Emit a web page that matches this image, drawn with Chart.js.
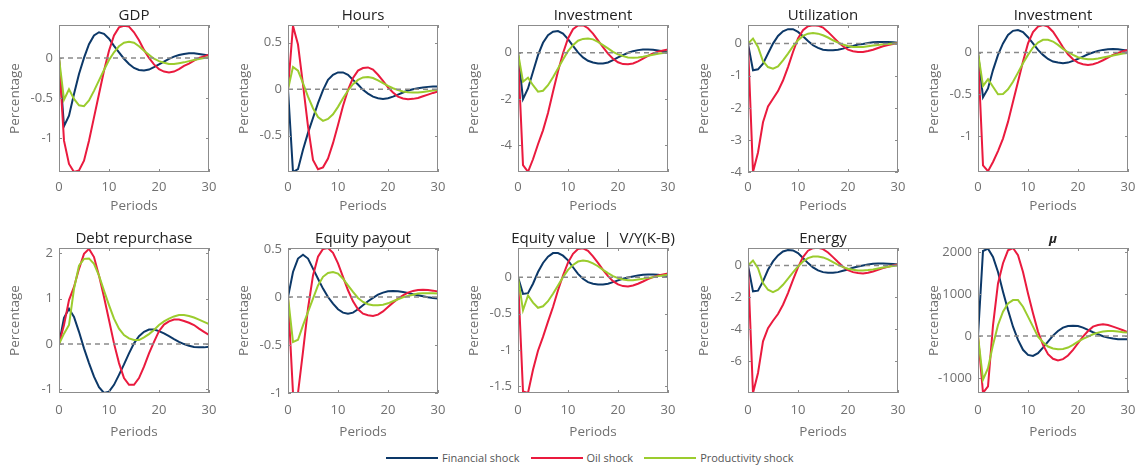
<!DOCTYPE html>
<html>
<head>
<meta charset="utf-8">
<script src="https://cdn.jsdelivr.net/npm/chart.js@4.4.0/dist/chart.umd.min.js"></script>
<style>
  html, body { margin: 0; padding: 0; background: #fff; width: 1138px; height: 469px; overflow: hidden; }
  .panel { position: absolute; width: 230px; height: 220px; }
  #legend { position: absolute; left: 386px; top: 450px; display: flex; align-items: center;
            font: 11px "Open Sans", sans-serif; color: #555; line-height: 15px; }
  #legend .sw { display: inline-block; width: 52px; height: 2px; margin-right: 4px; }
  #legend .item { display: flex; align-items: center; margin-right: 11px; }
</style>
</head>
<body>
<div id="legend"></div>
<script>
// periods on the x axis
const periods = [0,1,2,3,4,5,6,7,8,9,10,11,12,13,14,15,16,17,18,19,20,21,22,23,24,25,26,27,28,29,30];
const xTicks = [0, 10, 20, 30];

const seriesNames = ['Financial shock', 'Oil shock', 'Productivity shock'];
const seriesColors = ['#0c3868', '#ea1a3e', '#9bcc2e'];

// GDP
const gdpFin  = [0,-0.85,-0.72,-0.45,-0.2,0.0,0.17,0.28,0.32,0.30,0.24,0.15,0.07,-0.01,-0.075,-0.125,-0.15,-0.157,-0.145,-0.115,-0.08,-0.045,-0.012,0.016,0.037,0.05,0.058,0.058,0.05,0.04,0.03];
const gdpOil  = [0,-1.03,-1.32,-1.42,-1.40,-1.28,-1.03,-0.74,-0.45,-0.16,0.09,0.28,0.38,0.40,0.39,0.32,0.22,0.10,0.0,-0.08,-0.14,-0.17,-0.18,-0.17,-0.14,-0.10,-0.07,-0.035,0.0,0.02,0.04];
const gdpProd = [0,-0.52,-0.39,-0.51,-0.59,-0.60,-0.53,-0.41,-0.28,-0.15,-0.025,0.07,0.145,0.19,0.20,0.19,0.145,0.09,0.04,-0.01,-0.04,-0.06,-0.075,-0.075,-0.065,-0.055,-0.04,-0.025,-0.012,0.0,0.008];
const gdpTicks = [-1, -0.5, 0];

// Hours
const hoursFin  = [0,-0.89,-0.86,-0.65,-0.47,-0.31,-0.15,-0.01,0.10,0.155,0.18,0.18,0.155,0.10,0.05,-0.007,-0.047,-0.08,-0.097,-0.104,-0.097,-0.08,-0.058,-0.036,-0.014,0.0,0.01,0.018,0.025,0.029,0.029];
const hoursOil  = [0,0.68,0.48,0.05,-0.40,-0.76,-0.86,-0.84,-0.745,-0.58,-0.385,-0.18,-0.007,0.12,0.20,0.227,0.234,0.21,0.155,0.09,0.02,-0.036,-0.08,-0.10,-0.108,-0.104,-0.094,-0.076,-0.058,-0.04,-0.025];
const hoursProd = [0,0.24,0.20,0.065,-0.08,-0.205,-0.30,-0.34,-0.32,-0.27,-0.19,-0.097,-0.014,0.054,0.10,0.126,0.13,0.12,0.094,0.065,0.036,0.01,-0.01,-0.025,-0.032,-0.036,-0.036,-0.029,-0.022,-0.014,-0.007];
const hoursTicks = [-0.5, 0, 0.5];

// Investment
const invFin  = [0,-2.0,-1.54,-0.82,-0.10,0.43,0.76,0.91,0.94,0.83,0.59,0.30,0.014,-0.20,-0.345,-0.42,-0.46,-0.46,-0.42,-0.32,-0.20,-0.10,0.0,0.07,0.115,0.144,0.144,0.13,0.10,0.07,0.043];
const invOil  = [0,-4.85,-5.14,-4.6,-3.95,-3.35,-2.6,-1.68,-0.8,-0.02,0.62,1.02,1.18,1.19,1.06,0.83,0.54,0.24,-0.04,-0.26,-0.41,-0.49,-0.5,-0.46,-0.37,-0.25,-0.13,-0.03,0.05,0.1,0.14];
const invProd = [0,-1.25,-1.08,-1.40,-1.68,-1.64,-1.40,-1.06,-0.68,-0.29,0.07,0.33,0.52,0.60,0.62,0.58,0.47,0.33,0.19,0.043,-0.07,-0.144,-0.20,-0.216,-0.20,-0.17,-0.13,-0.086,-0.043,-0.014,0.014];
const invTicks = [-4, -2, 0];

// Utilization
const utilFin  = [0,-0.83,-0.80,-0.625,-0.31,0,0.24,0.385,0.45,0.45,0.365,0.23,0.083,-0.052,-0.135,-0.19,-0.21,-0.21,-0.19,-0.156,-0.104,-0.073,-0.03,-0.01,0.02,0.04,0.05,0.05,0.05,0.04,0.03];
const utilOil  = [0,-4.0,-3.39,-2.45,-1.96,-1.72,-1.48,-1.15,-0.73,-0.26,0.16,0.42,0.54,0.57,0.56,0.50,0.365,0.21,0.052,-0.083,-0.19,-0.24,-0.26,-0.26,-0.23,-0.19,-0.135,-0.083,-0.042,-0.01,0.02];
const utilProd = [0,0.156,-0.104,-0.55,-0.73,-0.78,-0.71,-0.52,-0.31,-0.083,0.104,0.24,0.31,0.33,0.31,0.26,0.19,0.104,0.03,-0.03,-0.073,-0.104,-0.104,-0.104,-0.083,-0.06,-0.04,-0.02,-0.01,0,0];
const utilTicks = [-4, -3, -2, -1, 0];

// Investment (second panel)
const inv2Fin  = [0,-0.536,-0.43,-0.21,-0.028,0.11,0.21,0.26,0.27,0.245,0.184,0.11,0.032,-0.028,-0.076,-0.108,-0.12,-0.128,-0.12,-0.10,-0.076,-0.048,-0.02,0,0.02,0.032,0.04,0.044,0.04,0.032,0.024];
const inv2Oil  = [0,-1.35,-1.42,-1.31,-1.18,-1.03,-0.83,-0.59,-0.35,-0.108,0.11,0.245,0.31,0.33,0.31,0.25,0.16,0.064,-0.02,-0.08,-0.12,-0.14,-0.148,-0.14,-0.12,-0.092,-0.06,-0.028,-0.004,0.016,0.032];
const inv2Prod = [0,-0.40,-0.32,-0.41,-0.50,-0.496,-0.44,-0.35,-0.24,-0.128,-0.028,0.06,0.12,0.152,0.152,0.132,0.092,0.044,0.004,-0.028,-0.056,-0.072,-0.08,-0.08,-0.072,-0.06,-0.048,-0.036,-0.024,-0.012,-0.004];
const inv2Ticks = [-1, -0.5, 0];

// Debt repurchase
const debtFin  = [0,0.58,0.78,0.60,0.27,-0.095,-0.42,-0.72,-0.95,-1.08,-1.05,-0.90,-0.68,-0.45,-0.205,0.015,0.175,0.27,0.32,0.32,0.285,0.234,0.175,0.11,0.05,0,-0.037,-0.066,-0.073,-0.073,-0.06];
const debtOil  = [0,0.42,0.97,1.26,1.66,1.99,2.10,1.92,1.51,1.04,0.53,0.015,-0.42,-0.75,-0.90,-0.90,-0.75,-0.50,-0.205,0.05,0.285,0.43,0.50,0.54,0.54,0.51,0.47,0.42,0.34,0.27,0.20];
const debtProd = [0,0.23,0.42,1.22,1.73,1.88,1.89,1.77,1.51,1.18,0.86,0.56,0.34,0.20,0.124,0.088,0.088,0.146,0.22,0.31,0.42,0.50,0.56,0.61,0.64,0.64,0.62,0.585,0.54,0.49,0.44];
const debtTicks = [-1, 0, 1, 2];

// Equity payout
const payFin  = [0,0.26,0.40,0.44,0.40,0.295,0.19,0.087,0,-0.07,-0.128,-0.163,-0.174,-0.163,-0.128,-0.087,-0.045,-0.01,0.024,0.045,0.059,0.063,0.059,0.052,0.042,0.028,0.017,0.007,-0.003,-0.01,-0.017];
const payOil  = [0,-1.0,-1.0,-0.57,-0.12,0.225,0.42,0.50,0.51,0.46,0.35,0.21,0.07,-0.045,-0.128,-0.174,-0.19,-0.198,-0.184,-0.15,-0.104,-0.059,-0.017,0.017,0.045,0.063,0.073,0.076,0.073,0.066,0.056];
const payProd = [0,-0.47,-0.445,-0.295,-0.156,-0.017,0.12,0.21,0.25,0.26,0.243,0.19,0.12,0.052,-0.01,-0.052,-0.076,-0.087,-0.087,-0.08,-0.066,-0.045,-0.024,-0.003,0.01,0.024,0.035,0.038,0.038,0.038,0.035];
const payTicks = [-1, -0.5, 0, 0.5];

// Equity value | V/Y(K-B)
const valFin  = [0,-0.23,-0.22,-0.09,0.07,0.195,0.28,0.33,0.33,0.295,0.23,0.136,0.045,-0.023,-0.068,-0.09,-0.10,-0.10,-0.09,-0.068,-0.045,-0.023,-0.005,0.01,0.023,0.032,0.036,0.036,0.032,0.023,0.014];
const valOil  = [0,-1.57,-1.59,-1.27,-1.01,-0.82,-0.61,-0.41,-0.18,0.023,0.20,0.32,0.386,0.395,0.36,0.286,0.195,0.10,0.014,-0.055,-0.10,-0.123,-0.127,-0.114,-0.09,-0.06,-0.027,0,0.023,0.036,0.05];
const valProd = [0,-0.455,-0.25,-0.35,-0.42,-0.40,-0.33,-0.227,-0.114,0,0.10,0.168,0.214,0.227,0.218,0.19,0.15,0.10,0.055,0.014,-0.014,-0.032,-0.041,-0.041,-0.032,-0.023,-0.01,0,0.014,0.023,0.032];
const valTicks = [-1.5, -1, -0.5, 0];

// Energy
const enFin  = [0,-1.62,-1.58,-1.0,-0.27,0.25,0.625,0.875,0.96,0.94,0.77,0.46,0.146,-0.125,-0.31,-0.42,-0.46,-0.46,-0.42,-0.33,-0.25,-0.146,-0.0625,0,0.0625,0.104,0.125,0.125,0.104,0.083,0.0625];
const enOil  = [0,-7.98,-6.73,-4.75,-3.92,-3.46,-3.04,-2.46,-1.73,-0.90,-0.125,0.52,0.92,1.08,1.1,1.02,0.81,0.52,0.21,-0.083,-0.29,-0.42,-0.48,-0.50,-0.46,-0.375,-0.27,-0.167,-0.083,0,0.0625];
const enProd = [0,0.31,-0.167,-1.10,-1.52,-1.67,-1.52,-1.21,-0.83,-0.44,-0.0625,0.25,0.46,0.5625,0.5625,0.50,0.375,0.21,0.04,-0.104,-0.21,-0.27,-0.31,-0.31,-0.29,-0.25,-0.1875,-0.125,-0.083,-0.04,0];
const enTicks = [-6, -4, -2, 0];

// mu
const muFin  = [0,2020,2075,1880,1520,1050,615,220,-95,-330,-450,-475,-410,-276,-134,8,118,197,237,245,237,197,142,87,40,-8,-40,-63,-79,-79,-79];
const muOil  = [0,-1355,-1200,250,1250,1730,2035,2090,1920,1520,1010,537,103,-213,-434,-544,-584,-552,-465,-331,-174,-16,118,221,260,276,260,221,181,134,87];
const muProd = [0,-1040,-765,-213,260,576,773,852,852,694,458,221,-16,-150,-252,-300,-316,-308,-276,-213,-134,-71,-16,40,79,103,118,118,103,87,79];
const muTicks = [-1000, 0, 1000, 2000];

const panels = [
  { title: 'GDP',            series: [gdpFin, gdpOil, gdpProd],       min: -1.42, max: 0.41, ticks: gdpTicks,   col: 0, row: 0 },
  { title: 'Hours',          series: [hoursFin, hoursOil, hoursProd], min: -0.89, max: 0.69, ticks: hoursTicks, col: 1, row: 0 },
  { title: 'Investment',     series: [invFin, invOil, invProd],       min: -5.15, max: 1.2,  ticks: invTicks,   col: 2, row: 0 },
  { title: 'Utilization',    series: [utilFin, utilOil, utilProd],    min: -4,    max: 0.58, ticks: utilTicks,  col: 3, row: 0 },
  { title: 'Investment',     series: [inv2Fin, inv2Oil, inv2Prod],    min: -1.43, max: 0.33, ticks: inv2Ticks,  col: 4, row: 0 },
  { title: 'Debt repurchase', series: [debtFin, debtOil, debtProd],   min: -1.08, max: 2.12, ticks: debtTicks,  col: 0, row: 1 },
  { title: 'Equity payout',  series: [payFin, payOil, payProd],       min: -1.0,  max: 0.51, ticks: payTicks,   col: 1, row: 1 },
  { title: 'Equity value  |  V/Y(K-B)', series: [valFin, valOil, valProd], min: -1.59, max: 0.40, ticks: valTicks, col: 2, row: 1 },
  { title: 'Energy',         series: [enFin, enOil, enProd],          min: -7.98, max: 1.09, ticks: enTicks,    col: 3, row: 1 },
  { title: 'μ',              series: [muFin, muOil, muProd],          min: -1357, max: 2091, ticks: muTicks,    col: 4, row: 1, bold: true }
];

const FONT = "'Open Sans', sans-serif";
const GREY = '#707070';

// MATLAB-like box, inward tick marks and the panel title
const boxPlugin = {
  id: 'boxPlugin',
  afterDraw(chart, args, opts) {
    const { ctx, chartArea: a, scales: { x, y } } = chart;
    ctx.save();
    ctx.strokeStyle = '#8c8c8c';
    ctx.lineWidth = 1;
    ctx.strokeRect(Math.round(a.left) + 0.5, Math.round(a.top) + 0.5,
                   Math.round(a.right - a.left) - 1, Math.round(a.bottom - a.top) - 1);
    ctx.beginPath();
    x.ticks.forEach(t => {
      const px = Math.round(x.getPixelForValue(t.value)) + 0.5;
      ctx.moveTo(px, a.bottom); ctx.lineTo(px, a.bottom - 3);
      ctx.moveTo(px, a.top); ctx.lineTo(px, a.top + 3);
    });
    y.ticks.forEach(t => {
      const py = Math.round(y.getPixelForValue(t.value)) + 0.5;
      ctx.moveTo(a.left, py); ctx.lineTo(a.left + 3, py);
      ctx.moveTo(a.right, py); ctx.lineTo(a.right - 3, py);
    });
    ctx.stroke();
    ctx.fillStyle = '#222';
    ctx.font = opts.bold ? 'italic bold 13px ' + FONT : '15px ' + FONT;
    ctx.textAlign = 'center';
    ctx.textBaseline = 'alphabetic';
    ctx.fillText(opts.text, (a.left + a.right) / 2, a.top - 5);
    ctx.restore();
  }
};

const lefts = [0, 229, 459, 689, 919];
const tops = [0, 223];

panels.forEach(p => {
  const div = document.createElement('div');
  div.className = 'panel';
  div.style.left = lefts[p.col] + 'px';
  div.style.top = tops[p.row] + 'px';
  const cv = document.createElement('canvas');
  cv.width = 230; cv.height = 220;
  div.appendChild(cv);
  document.body.appendChild(div);

  const datasets = p.series.map((vals, i) => ({
    label: seriesNames[i],
    data: periods.map((t, k) => ({ x: t, y: vals[k] })),
    borderColor: seriesColors[i],
    borderWidth: 2,
    pointRadius: 0,
    tension: 0,
    order: 3 - i
  }));
  datasets.push({
    label: 'zero',
    data: [{ x: periods[0], y: 0 }, { x: periods[periods.length - 1], y: 0 }],
    borderColor: '#8a8a8a',
    borderWidth: 1.5,
    borderDash: [5, 4],
    pointRadius: 0,
    order: 0
  });

  new Chart(cv, {
    type: 'line',
    data: { datasets },
    options: {
      responsive: false,
      animation: false,
      events: [],
      layout: { padding: { top: 25, right: 21, left: 0, bottom: 0 } },
      plugins: {
        legend: { display: false },
        tooltip: { enabled: false },
        boxPlugin: { text: p.title, bold: !!p.bold }
      },
      scales: {
        x: {
          type: 'linear', min: 0, max: 30,
          afterBuildTicks: s => { s.ticks = xTicks.map(v => ({ value: v })); },
          afterFit: s => { s.height = p.row === 0 ? 48 : 50; },
          ticks: { color: GREY, font: { family: FONT, size: 13 }, padding: p.row === 0 ? 7 : 9,
                   maxRotation: 0, callback: v => String(v) },
          grid: { display: false, drawTicks: false },
          border: { display: false },
          title: { display: true, text: 'Periods', color: GREY,
                   font: { family: FONT, size: 13.5 }, padding: { top: 0, bottom: p.row === 0 ? 5.5 : 3 } }
        },
        y: {
          min: p.min, max: p.max,
          afterBuildTicks: s => { s.ticks = p.ticks.map(v => ({ value: v })); },
          afterFit: s => { s.width = 59; },
          ticks: { color: GREY, font: { family: FONT, size: 13 }, padding: 6, callback: v => String(v) },
          grid: { display: false, drawTicks: false },
          border: { display: false },
          title: { display: true, text: 'Percentage', color: GREY,
                   font: { family: FONT, size: 13.5 }, padding: { top: 7.4, bottom: 0 } }
        }
      }
    },
    plugins: [boxPlugin]
  });
});

// legend
const legend = document.getElementById('legend');
seriesNames.forEach((name, i) => {
  const item = document.createElement('div');
  item.className = 'item';
  const sw = document.createElement('span');
  sw.className = 'sw';
  sw.style.background = seriesColors[i];
  const txt = document.createElement('span');
  txt.textContent = name;
  item.appendChild(sw);
  item.appendChild(txt);
  legend.appendChild(item);
});
</script>
</body>
</html>
